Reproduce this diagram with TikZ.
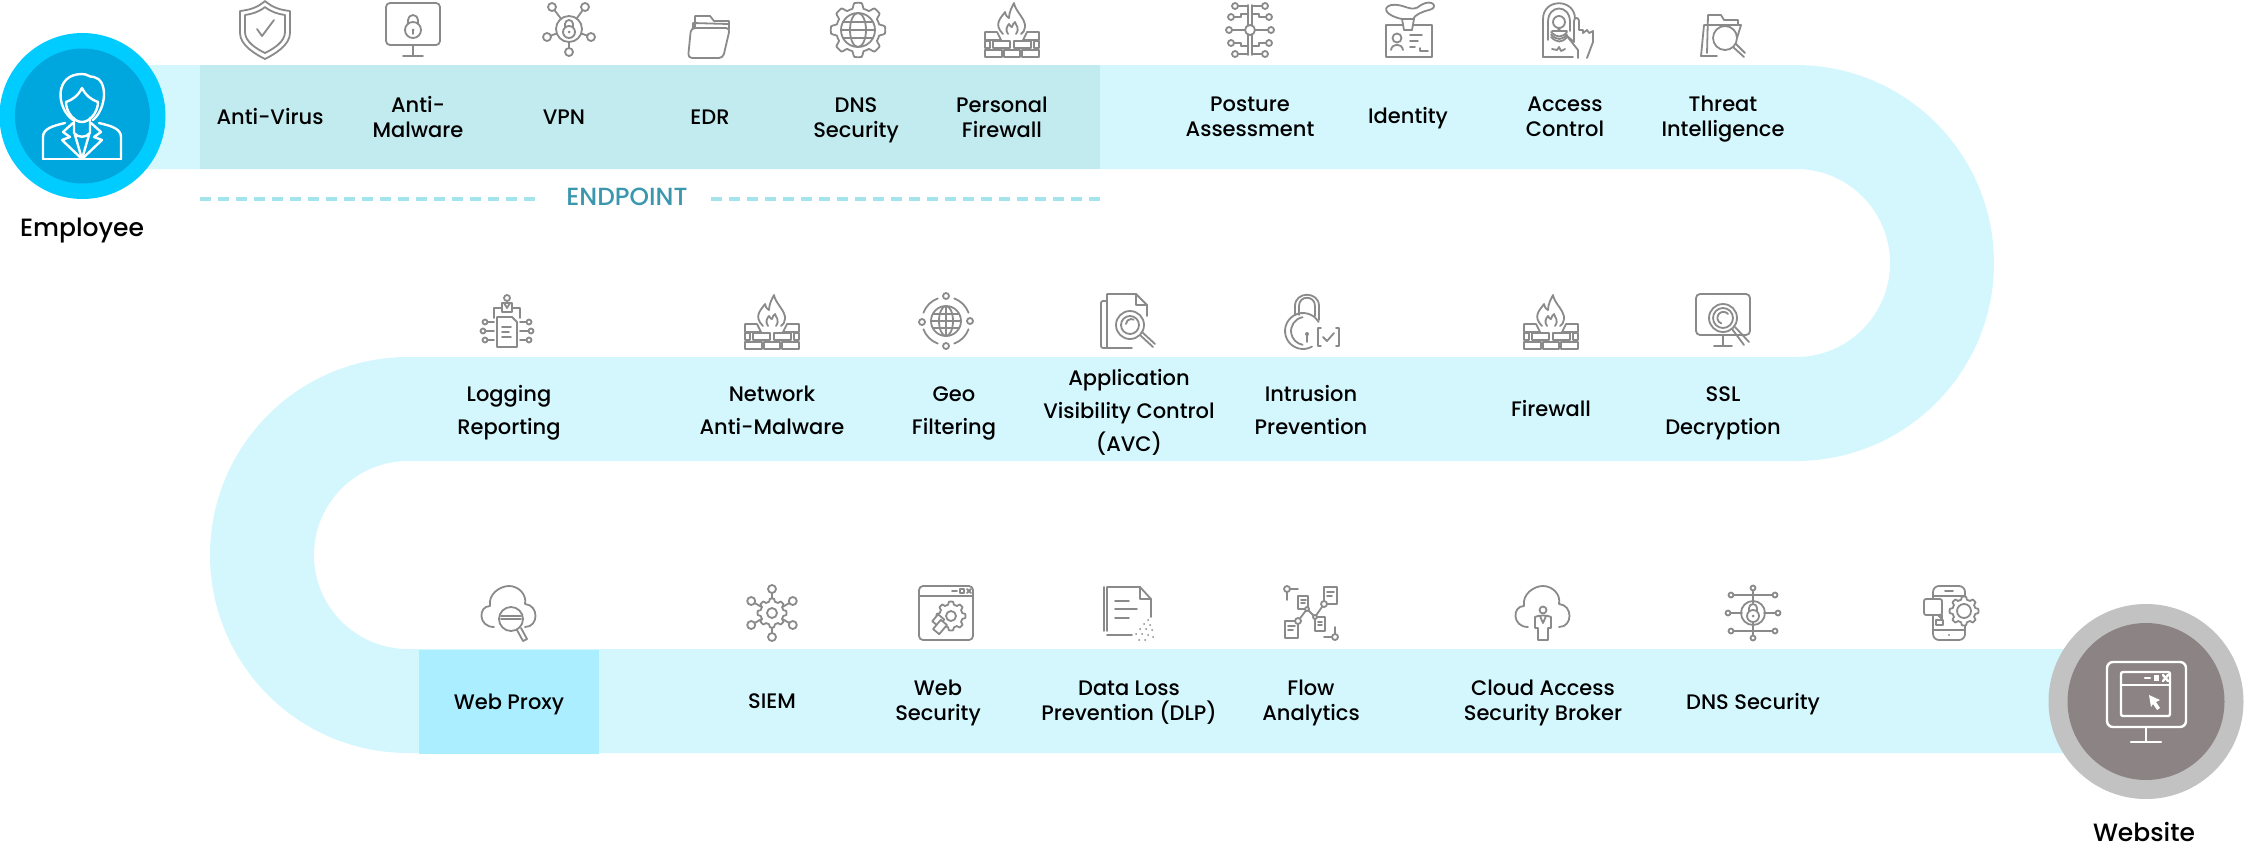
\documentclass[tikz,border=0pt]{standalone}
\usepackage{fontspec}
\setmainfont{Poppins}
\newfontfamily\mediumfont{Poppins}[UprightFont=* Medium]
\usepackage{xcolor}
\usepackage{tikz}
\usetikzlibrary{positioning}
\definecolor{BandBlue}{HTML}{D4F7FE}
\definecolor{EndpointTeal}{HTML}{C2EBF0}
\definecolor{ProxyBlue}{HTML}{AAEEFF}
\definecolor{DashTeal}{HTML}{A4E4EC}
\definecolor{EndpointText}{HTML}{3A97AD}
\definecolor{EmployeeRing}{HTML}{00CCFF}
\definecolor{EmployeeCore}{HTML}{00A6DE}
\definecolor{WebsiteRing}{HTML}{C2C2C2}
\definecolor{WebsiteCore}{HTML}{8C8484}
\definecolor{IconGray}{HTML}{8A8A8A}

\newcommand{\GearAt}[3]{\draw[fill=white,shift={(#1,#2)}] plot[domain=0:360,samples=145,smooth] (\x:{#3*(1+.11*max(-1,min(1,2.5*cos(8*\x))))}) -- cycle;}
\newcommand{\LockAt}[2]{
  \draw[shift={(#1,#2)}] (0,3) circle (6);
  \draw[shift={(#1,#2)}] (-4,-2) -- (-4,-5) arc[start angle=180,end angle=360,radius=4] -- (4,-2);
  \fill[shift={(#1,#2)}] (0,3) circle (1.5);
}
\newcommand{\BricksAt}{
  \draw (-27,2) -- (-15,2) -- (-11,10) -- (-27,10) -- cycle;
  \draw (27,2) -- (15,2) -- (11,10) -- (27,10) -- cycle;
  \draw (-27,11) rectangle (-22,18);
  \draw (-19,11) rectangle (-2,18);
  \draw (2,11) rectangle (19,18);
  \draw (22,11) rectangle (27,18);
  \draw (-27,20) rectangle (-10,27);
  \draw (-8,20) rectangle (8,27);
  \draw (10,20) rectangle (27,27);
}
\newcommand{\CloudAt}{
  \draw (-15,14) .. controls (-31,14) and (-31,-7) .. (-19,-7) .. controls (-21,-19) and (-9,-27) .. (0,-27)
    .. controls (10,-27) and (18,-18) .. (16,-9) .. controls (30,-8) and (30,14) .. (16,14);
}

\tikzset{
  pics/icshield/.style={code={
    \draw (0,-29) .. controls (-8,-22) and (-16,-20) .. (-25,-19) -- (-25,3) .. controls (-25,15) and (-10,24) .. (0,29)
      .. controls (10,24) and (25,15) .. (25,3) -- (25,-19) .. controls (16,-20) and (8,-22) .. (0,-29) -- cycle;
    \draw (0,-23) .. controls (-6,-18) and (-13,-16) .. (-20,-15) -- (-20,2) .. controls (-20,12) and (-8,19) .. (0,23)
      .. controls (8,19) and (20,12) .. (20,2) -- (20,-15) .. controls (13,-16) and (6,-18) .. (0,-23) -- cycle;
    \draw (-8,-1) -- (-3,6) -- (9,-10);
  }},
  pics/icmonitorlock/.style={code={
    \draw[rounded corners=2pt] (-27,-27) rectangle (27,15);
    \draw (0,15) -- (0,26);
    \draw (-10,26) -- (10,26);
    \draw (0,0) circle (8);
    \draw (-5,-6) -- (-5,-10) arc[start angle=180,end angle=360,radius=5] -- (5,-6);
    \fill (0,0) circle (1.5);
    \draw (0,0) -- (0,4);
  }},
  pics/ichub/.style={code={
    \foreach \nx/\ny in {-17/-22,16/-22,-22/8,22/8,0/23} {
      \draw (0,0) -- (\nx,\ny);
      \draw[fill=white] (\nx,\ny) circle (4);
    }
    \draw[fill=white] (0,0) circle (13);
    \LockAt{0}{0}
  }},
  pics/icfolder/.style={code={
    \draw (-14,15) -- (-14,-21) -- (1,-21) -- (5,-16) -- (20,-16) -- (20,-8);
    \draw (-17,18) -- (-16,-14) -- (19,-13);
    \draw[fill=white,rounded corners=2pt] (-21,21) -- (-18,-9) -- (21,-9) -- (14,21) -- cycle;
  }},
  pics/icgearglobe/.style={code={
    \GearAt{0}{0}{24.5}
    \draw (0,0) circle (17);
    \draw (0,0) ellipse (8 and 17);
    \draw (-17,0) -- (17,0);
    \draw (-15,-8) -- (15,-8);
    \draw (-15,8) -- (15,8);
  }},
  pics/icfirewall/.style={code={
    \BricksAt
    \draw (-9,4) .. controls (-19,-6) and (-11,-12) .. (-7,-18) .. controls (-6,-14) and (-5,-13) .. (-3,-12)
      .. controls (-3,-18) and (0,-23) .. (2,-27) .. controls (3,-19) and (14,-11) .. (13,-3) .. controls (13,0) and (11,3) .. (9,4);
    \draw (-4,4) .. controls (-7,0) and (-5,-4) .. (-3,-6) .. controls (-2,-4) and (-1,-3) .. (0,-3)
      .. controls (0,-5) and (2,-7) .. (3,-8) .. controls (4,-4) and (8,-2) .. (4,4);
  }},
  pics/iccircuit/.style={code={
    \draw (-2,-25) -- (-2,25);
    \draw (2,-25) -- (2,25);
    \foreach \sx in {-1,1} {
      \draw (\sx*2,-24) -- (\sx*12,-24);
      \draw (\sx*2,-16) -- (\sx*9,-16) -- (\sx*9,-13) -- (\sx*16,-13);
      \draw (\sx*5,0) -- (\sx*18,0);
      \draw (\sx*2,16) -- (\sx*9,16) -- (\sx*9,13) -- (\sx*16,13);
      \draw (\sx*2,24) -- (\sx*12,24);
      \draw[fill=white] (\sx*15,-24) circle (3);
      \draw[fill=white] (\sx*19,-13) circle (3);
      \draw[fill=white] (\sx*21,0) circle (3);
      \draw[fill=white] (\sx*19,13) circle (3);
      \draw[fill=white] (\sx*15,24) circle (3);
    }
    \draw[fill=white] (0,0) circle (5);
  }},
  pics/icbadge/.style={code={
    \draw (-7,-11) .. controls (-22,-14) and (-28,-22) .. (-18,-25) .. controls (-4,-27) and (2,-16) .. (12,-25)
      .. controls (24,-32) and (30,-22) .. (20,-20) .. controls (12,-18) and (6,-15) .. (4,-11);
    \draw[fill=white] (-23,-5) rectangle (23,27);
    \draw[fill=white] (-7,-11) -- (5,-11) -- (3,0) -- (-5,0) -- cycle;
    \draw (-12,8) circle (4.5);
    \draw (-18,20) .. controls (-17,13) and (-7,13) .. (-6,20);
    \draw (1,5) -- (13,5);
    \draw (1,11) -- (9,11);
    \draw (1,17) -- (6,17);
    \draw (11,18) -- (11,21) -- (19,21);
  }},
  pics/icfinger/.style={code={
    \draw (-23,27) -- (-23,-11) .. controls (-23,-32) and (9,-32) .. (9,-11) -- (9,-9);
    \draw (-23,27) -- (7,27);
    \draw (-18,10) -- (-18,-8) .. controls (-18,-26) and (4,-26) .. (4,-8) -- (4,1);
    \draw (-7,-8) circle (6);
    \foreach \ry in {2,4.5,7} { \draw (-15,\ry) .. controls (-9,\ry+6) and (-4,\ry+6) .. (1,\ry); }
    \draw (-14,1) -- (1,1);
    \draw (-8,-1) -- (-6,-1);
    \draw (-14,19) -- (-9,20) -- (-7,17) -- (-5,21) -- (-1,19);
    \draw[fill=white] (0,5) -- (8,12) -- (8,-9) .. controls (8,-13) and (13,-13) .. (13,-9) -- (13,0) -- (17,0) -- (17,3) -- (21,0) -- (23,3) -- (27,1) -- (27,12) -- (21,28);
    \draw (0,5) -- (12,20) -- (12,28);
  }},
  pics/icfoldersearch/.style={code={
    \draw (-16,17) -- (-15,-21) -- (-2,-21) -- (1,-16) -- (15,-16) -- (15,-11);
    \draw (-22,20) -- (-19,-11) -- (18,-11) -- (14,2);
    \draw (-22,20) -- (-6,20);
    \draw[fill=white] (2,2) circle (12);
    \draw (10,11) -- (21,21);
    \draw (13,8) -- (22,17);
  }},
  pics/iclogging/.style={code={
    \draw (0,-23) circle (3);
    \draw (-5,-18) rectangle (5,-9);
    \draw (-3,-18) -- (0,-13) -- (3,-18);
    \draw (-13,-3) -- (-13,-13) -- (-5,-13);
    \draw (13,-3) -- (13,-13) -- (5,-13);
    \foreach \sx in {-1,1} {
      \draw (\sx*13,1) -- (\sx*20,1);
      \draw (\sx*13,10) -- (\sx*22,10);
      \draw (\sx*13,19) -- (\sx*20,19);
      \draw[fill=white] (\sx*22,1) circle (2.5);
      \draw[fill=white] (\sx*24,10) circle (2.5);
      \draw[fill=white] (\sx*22,19) circle (2.5);
    }
    \draw[fill=white] (-10,-4) -- (5,-4) -- (10,1) -- (10,26) -- (-10,26) -- cycle;
    \draw (-5,6) -- (4,6);
    \draw (-5,11) -- (2,11);
    \draw (-5,16) -- (4,16);
  }},
  pics/icgeo/.style={code={
    \draw (0,0) circle (15);
    \draw (0,0) ellipse (7 and 15);
    \draw (0,-15) -- (0,15);
    \draw (-15,0) -- (15,0);
    \draw (-13,-7) -- (13,-7);
    \draw (-13,7) -- (13,7);
    \foreach \sa in {-70,20,110,200} { \draw (\sa:24) arc[start angle=\sa,end angle=\sa+50,radius=24]; }
    \draw[fill=white] (0,-25) circle (3);
    \draw[fill=white] (24,0) circle (3);
    \draw[fill=white] (0,25) circle (3);
    \draw[fill=white] (-24,1) circle (3);
  }},
  pics/icavc/.style={code={
    \draw[rounded corners=1pt] (-21,-20) -- (-27,-20) -- (-27,27) -- (4,27);
    \draw (-21,27) -- (-21,-27) -- (8,-27) -- (19,-16) -- (19,-5);
    \draw (8,-27) -- (8,-16) -- (19,-16);
    \draw[fill=white] (2,4) circle (14);
    \draw (2,4) circle (9);
    \draw (-2,3) arc[start angle=180,end angle=300,radius=5];
    \draw (12,14) -- (25,26);
    \draw (14,11) -- (27,23);
  }},
  pics/iclockcheck/.style={code={
    \draw (-16,-7) -- (-16,-16) .. controls (-16,-31) and (8,-31) .. (8,-16) -- (8,-2);
    \draw (-12,-7) -- (-12,-16) .. controls (-12,-27) and (4,-27) .. (4,-16) -- (4,-6);
    \draw (7.6,0) arc[start angle=-30,end angle=-300,radius=18];
    \draw (-8.4,-4.8) arc[start angle=-100,end angle=-260,radius=14];
    \fill (-4,12) circle (2);
    \draw (-4,12) -- (-4,20);
    \draw (10,6) -- (7,6) -- (7,24) -- (10,24);
    \draw (25,6) -- (28,6) -- (28,24) -- (25,24);
    \draw (12,15) -- (16,19) -- (23,11);
  }},
  pics/icssl/.style={code={
    \draw[rounded corners=2pt] (-27,-27) rectangle (27,14);
    \draw (0,14) -- (0,25);
    \draw (-9,25) -- (9,25);
    \draw[fill=white] (0,-3) circle (14);
    \draw (0,-3) circle (10);
    \draw (5,-7) arc[start angle=-40,end angle=-250,radius=6];
    \draw (9,8) -- (21,24);
    \draw (12,6) -- (26,21);
  }},
  pics/iccloudsearch/.style={code={
    \CloudAt
    \draw[fill=white] (2,6) circle (12);
    \draw (-8,3) -- (12,3);
    \draw (-8,6) -- (12,6);
    \draw (8,17) -- (14,28) -- (18,26) -- (12,15);
  }},
  pics/icsiem/.style={code={
    \foreach \na in {-90,-30,30,90,150,210} {
      \draw (0,0) -- (\na:20);
      \draw[fill=white] (\na:24) circle (4);
    }
    \GearAt{0}{0}{13}
    \draw (0,0) circle (5);
  }},
  pics/icwindow/.style={code={
    \draw[rounded corners=2pt] (-27,-27) rectangle (27,27);
    \draw (-27,-17) -- (27,-17);
    \draw (6,-22) -- (11,-22);
    \draw (14,-24) rectangle (18,-20);
    \draw (21,-24) -- (25,-20);
    \draw (21,-20) -- (25,-24);
    \GearAt{5}{3}{13}
    \draw (5,3) circle (5);
    \draw[fill=white,rotate around={-40:(-10,10)}] (-14,2) rectangle (-6,11);
    \draw[fill=white,rotate around={-40:(-6,14)}] (-10,8) rectangle (-2,20);
  }},
  pics/icdoc/.style={code={
    \draw (-24,-26) -- (-24,18);
    \draw (-21,18) -- (-21,-26) -- (12,-26) -- (23,-14) -- (23,4);
    \draw (12,-26) -- (12,-14) -- (23,-14);
    \draw (-21,22) -- (4,22);
    \draw (-13,-12) -- (1,-12);
    \draw (-13,-4) -- (9,-4);
    \draw (-13,5) -- (1,5);
    \foreach \dx/\dy in {20/7,16/11,22/12,12/16,18/16,24/17,8/21,14/21,20/22,25/24,11/27,17/27} {
      \fill (\dx,\dy) circle (1);
    }
  }},
  pics/icflow/.style={code={
    \draw (-24,-24) -- (-13,-24);
    \draw (-24,-24) -- (-24,-13);
    \draw (24,24) -- (13,24);
    \draw (24,24) -- (24,14);
    \draw (-13,8) -- (-4,-4) -- (4,4) -- (13,-9);
    \draw (-13,-17) rectangle (-3,-4);
    \draw (-26,8) rectangle (-13,25);
    \draw (4,4) rectangle (14,18);
    \draw (13,-26) rectangle (26,-9);
    \draw (-10,-13) -- (-5,-13);
    \draw (-10,-10) -- (-6,-10);
    \draw (-23,13) -- (-16,13);
    \draw (-23,17) -- (-18,17);
    \draw (7,9) -- (11,9);
    \draw (7,12) -- (11,12);
    \draw (16,-21) -- (23,-21);
    \draw (16,-17) -- (21,-17);
    \draw[fill=white] (-24,-24) circle (3);
    \draw[fill=white] (24,24) circle (3);
    \draw[fill=white] (-13,8) circle (3);
    \draw[fill=white] (13,-9) circle (3);
    \draw[fill=white] (-4,-4) circle (2);
    \draw[fill=white] (4,4) circle (2);
  }},
  pics/iccloudperson/.style={code={
    \CloudAt
    \draw[fill=white] (0,-3) circle (3.5);
    \draw[fill=white] (-8,4) .. controls (-5,2) and (5,2) .. (8,4) -- (8,15) -- (5,15) -- (5,27) -- (-5,27) -- (-5,15) -- (-8,15) -- cycle;
    \draw (-3,3) -- (0,10) -- (3,3);
  }},
  pics/icdnshub/.style={code={
    \draw (0,-23) -- (0,-10);
    \draw (0,23) -- (0,10);
    \draw (-21,-18) -- (21,-18);
    \draw (-21,18) -- (21,18);
    \draw (-22,0) -- (-11,0);
    \draw (22,0) -- (11,0);
    \foreach \nx/\ny in {0/-25,0/25,-22/-18,22/-18,-22/18,22/18,-25/0,25/0} {
      \draw[fill=white] (\nx,\ny) circle (2.5);
    }
    \draw (0,0) circle (12);
    \LockAt{0}{0}
  }},
  pics/icphone/.style={code={
    \draw[rounded corners=3pt] (-18,-27) rectangle (14,27);
    \draw (-18,-17) -- (14,-17);
    \draw (-18,17) -- (14,17);
    \draw (-6,-22) -- (2,-22);
    \fill (-2,22) circle (1.2);
    \draw[fill=white,rounded corners=1pt] (-27,-14) rectangle (-9,2);
    \draw (-9,2) -- (-9,6) -- (-13,2);
    \draw (-15,7) rectangle (-8,12);
    \GearAt{13}{-2}{13}
    \draw (13,-2) circle (7);
  }},
  pics/icemployee/.style={code={
    \draw (-39,43) -- (-39,21) .. controls (-39,13) and (-30,10) .. (-17,7);
    \draw (39,43) -- (39,21) .. controls (39,13) and (30,10) .. (17,7);
    \draw (-39,43) -- (39,43);
    \draw (-9,4) .. controls (-26,-8) and (-28,-42) .. (0,-42) .. controls (6,-42) and (6,-39) .. (12,-39)
      .. controls (26,-36) and (25,-8) .. (11,4);
    \draw (0,-28) .. controls (-4,-20) and (-10,-16) .. (-16,-14) .. controls (-16,-4) and (-8,6) .. (0,6)
      .. controls (8,6) and (16,-4) .. (16,-14) .. controls (10,-16) and (4,-20) .. (0,-28) -- cycle;
    \draw (-8,2) -- (-8,17) .. controls (-4,22) and (4,22) .. (8,17) -- (8,2);
    \draw (-9,7) -- (-19,16) -- (-12,21) -- (-20,24) -- (0,43) -- (20,24) -- (12,21) -- (19,16) -- (9,7);
    \draw (-7,19) -- (0,43) -- (7,19);
  }},
  pics/icwebsite/.style={code={
    \draw[rounded corners=3pt] (-39,-39) rectangle (40,26);
    \draw (0,26) -- (0,41);
    \draw (-15,41) -- (15,41);
    \draw[rounded corners=1pt] (-25,-29) rectangle (24,15);
    \draw (-25,-16) -- (24,-16);
    \draw (-1,-23) -- (4,-23);
    \fill (8,-26) rectangle (13,-20);
    \draw (17,-26) -- (22,-20);
    \draw (17,-20) -- (22,-26);
    \fill (3,-6) -- (14,-1) -- (10,1) -- (14,7) -- (11,9) -- (7,3) -- (5,6) -- cycle;
  }},
}

\begin{document}
\begin{tikzpicture}[
  x=0.5pt, y=-0.5pt,
  band/.style={draw=BandBlue, line width=52pt, line cap=butt},
  lbl/.style={font=\mediumfont\fontsize{10.5}{12.5}\selectfont, align=center, inner sep=0pt, text=black},
  lblwide/.style={font=\mediumfont\fontsize{10.5}{16.5}\selectfont, align=center, inner sep=0pt, text=black},
  endlbl/.style={font=\mediumfont\fontsize{12.5}{15}\selectfont, inner sep=0pt, text=black},
  icon/.style={color=IconGray, line width=0.9pt, line cap=round, line join=round},
  iconwhite/.style={color=white, line width=1.2pt, line cap=round, line join=round},
  ringnode/.style={circle, inner sep=0pt},
  dashline/.style={draw=DashTeal, line width=1.8pt, dash pattern=on 5.5pt off 3.5pt},
]
  \useasboundingbox (0,0) rectangle (2244,863);
  \draw[band] (82,117) -- (1796,117) arc[start angle=-90,end angle=90,radius=146] -- (408,409)
    arc[start angle=-90,end angle=-270,radius=146] -- (2146,701);
  \fill[EndpointTeal] (200,65) rectangle (1100,169);
  \fill[ProxyBlue] (419,650) rectangle (599,754);

  \node[ringnode, fill=EmployeeRing, minimum size=83pt] (empring) at (82.5,116) {};
  \node[ringnode, fill=EmployeeCore, minimum size=67.5pt] (empcore) at (82.5,116) {};
  \node[ringnode, fill=WebsiteRing, minimum size=97.5pt] (webring) at (2146,701.5) {};
  \node[ringnode, fill=WebsiteCore, minimum size=78.5pt] (webcore) at (2146,701.5) {};
  \pic[iconwhite] at (82,116) {icemployee};
  \pic[iconwhite] at (2146,701) {icwebsite};

  \node[endlbl] (employee) at (82,230.5) {Employee};
  \node[endlbl] (website) at (2144,831.5) {Website};

  \node[inner sep=0pt, text=EndpointText, font=\mediumfont\fontsize{12.4}{15}\selectfont] (endpoint) at (627,197) {ENDPOINT};
  \coordinate (dashstart) at (200,199);
  \coordinate (dashend) at (1100,199);
  \draw[dashline] (dashstart) -- (dashstart -| 539,0);
  \draw[dashline] (dashend) -- (dashend -| 711,0);

  \pic[icon] at (265,30) {icshield};
  \pic[icon] at (413,30) {icmonitorlock};
  \pic[icon] at (569,29) {ichub};
  \pic[icon] at (709,37) {icfolder};
  \pic[icon] at (858,30) {icgearglobe};
  \pic[icon] at (1012,30) {icfirewall};
  \pic[icon] at (1250,30) {iccircuit};
  \pic[icon] at (1409,30) {icbadge};
  \pic[icon] at (1566,30) {icfinger};
  \pic[icon] at (1723,36) {icfoldersearch};

  \pic[icon] at (507,321) {iclogging};
  \pic[icon] at (772,322) {icfirewall};
  \pic[icon] at (946,321) {icgeo};
  \pic[icon] at (1128,321) {icavc};
  \pic[icon] at (1311,322) {iclockcheck};
  \pic[icon] at (1551,322) {icfirewall};
  \pic[icon] at (1723,321) {icssl};

  \pic[icon] at (509,613) {iccloudsearch};
  \pic[icon] at (772,613) {icsiem};
  \pic[icon] at (946,613) {icwindow};
  \pic[icon] at (1128,613) {icdoc};
  \pic[icon] at (1311,613) {icflow};
  \pic[icon] at (1543,613) {iccloudperson};
  \pic[icon] at (1753,613) {icdnshub};
  \pic[icon] at (1951,613) {icphone};

  \node[lbl] (antivirus) at (270,117) {Anti-Virus};
  \node[lbl] (antimalware) at (418,117) {Anti-\\Malware};
  \node[lbl] (vpn) at (564,117) {VPN};
  \node[lbl] (edr) at (710,117) {EDR};
  \node[lbl] (dnstop) at (856,120) {DNS\\Security};
  \node[lbl] (personalfw) at (1002,117) {Personal\\Firewall};
  \node[lbl] (posture) at (1250,117) {Posture\\Assessment};
  \node[lbl] (identity) at (1408,118) {Identity};
  \node[lbl] (access) at (1565,117) {Access\\Control};
  \node[lbl] (threat) at (1723,119) {Threat\\Intelligence};

  \node[lblwide] (logging) at (509,413) {Logging\\Reporting};
  \node[lblwide] (networkam) at (772,410) {Network\\Anti-Malware};
  \node[lblwide] (geo) at (954,413) {Geo\\Filtering};
  \node[lblwide] (avc) at (1129,412) {Application\\Visibility Control\\(AVC)};
  \node[lblwide] (intrusion) at (1311,410) {Intrusion\\Prevention};
  \node[lblwide] (firewall) at (1551,409) {Firewall};
  \node[lblwide] (ssl) at (1723,413) {SSL\\Decryption};

  \node[lbl] (webproxy) at (509,704) {Web Proxy};
  \node[lbl] (siem) at (772,701) {SIEM};
  \node[lbl] (websec) at (938,703) {Web\\Security};
  \node[lbl] (dlp) at (1129,703) {Data Loss\\Prevention (DLP)};
  \node[lbl] (flow) at (1311,703) {Flow\\Analytics};
  \node[lbl] (casb) at (1543,703) {Cloud Access\\Security Broker};
  \node[lbl] (dnsbottom) at (1753,704) {DNS Security};
\end{tikzpicture}
\end{document}
